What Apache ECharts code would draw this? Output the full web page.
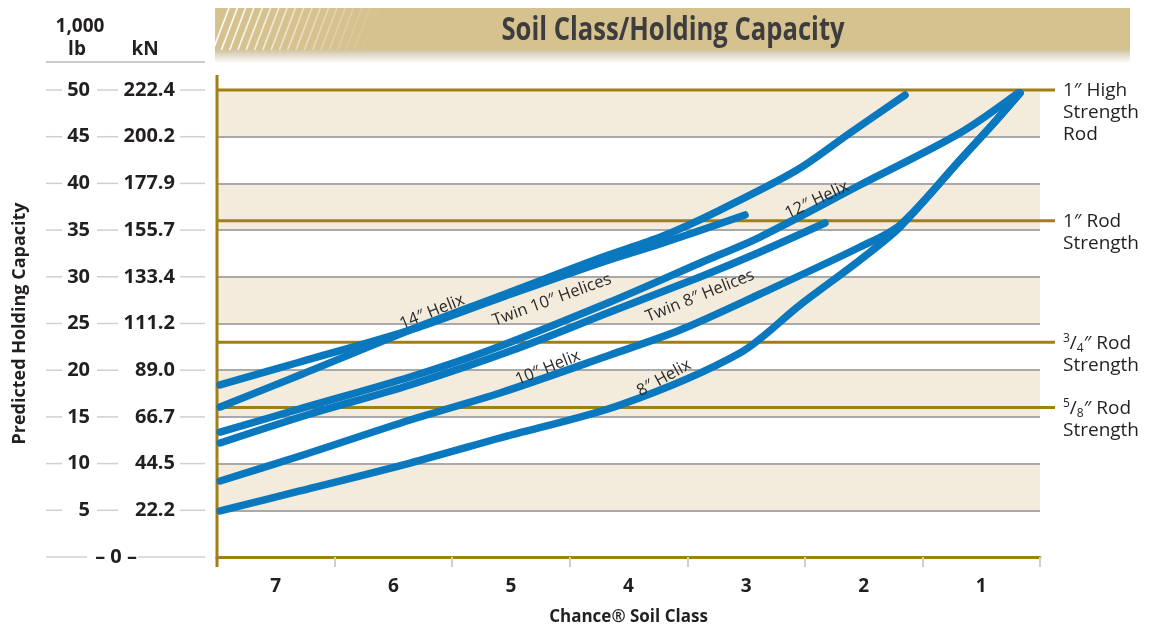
<!DOCTYPE html>
<html><head><meta charset="utf-8">
<script src="https://cdn.jsdelivr.net/npm/echarts/dist/echarts.min.js"></script>
<style>html,body{margin:0;padding:0;background:#fff}#c{width:1154px;height:627px}</style>
</head><body><div id="c"></div>
<script>
// ---- data ----
const soilClasses = ['7','6','5','4','3','2','1'];
const lbTicks = [0,5,10,15,20,25,30,35,40,45,50];
const knLabels = ['0','22.2','44.5','66.7','89.0','111.2','133.4','155.7','177.9','200.2','222.4'];
const rodValues = [50,36,23,16];
const rodLabels = [
  '1\u2033 High\nStrength\nRod',
  '1\u2033 Rod\nStrength',
  '{sup|3}/{sub|4}\u2033 Rod\nStrength',
  '{sup|5}/{sub|8}\u2033 Rod\nStrength'
];
const helix14 = [[7.474,18.42],[6.794,20.88],[5.858,24.30],[5.093,27.73],[4.242,31.48],[3.707,33.62],[3.009,36.62]];
const twin10 = [[7.474,16.06],[6.794,19.49],[5.858,24.30],[5.093,27.94],[4.242,32.01],[3.707,34.37],[3.222,37.15],[2.567,41.43],[2.116,45.40],[1.648,49.46]];
const helix12 = [[7.474,13.38],[6.709,16.17],[5.858,19.27],[5.178,22.16],[4.157,27.30],[3.392,31.48],[2.881,34.26],[2.031,39.83],[1.180,45.40],[0.687,49.68]];
const twin8 = [[7.474,12.21],[6.709,15.31],[5.858,18.42],[4.982,22.16],[4.157,26.23],[3.392,29.98],[2.881,32.66],[2.329,35.76]];
const helix10 = [[7.474,8.14],[6.794,10.81],[5.858,14.67],[5.093,17.56],[4.157,21.63],[3.562,24.30],[2.881,28.16],[2.031,33.19],[1.691,35.55],[1.180,42.51],[0.900,46.36],[0.670,49.68]];
const helix8 = [[7.474,4.93],[6.794,7.07],[5.858,10.06],[5.093,12.74],[4.072,16.27],[3.052,21.84],[2.541,26.98],[2.031,31.80],[1.691,35.33],[1.180,42.51],[0.900,46.36],[0.670,49.68]];
const curveLabels = [
  {text:'14\u2033 Helix', at:[5.671,26.23], rot:22},
  {text:'Twin 10\u2033 Helices', at:[4.651,27.52], rot:20},
  {text:'12\u2033 Helix', at:[2.397,38.22], rot:25},
  {text:'Twin 8\u2033 Helices', at:[3.392,27.94], rot:22},
  {text:'10\u2033 Helix', at:[4.685,20.24], rot:22},
  {text:'8\u2033 Helix', at:[3.698,19.16], rot:29}
];

// ---- style ----
const FF = "'Open Sans', 'Noto Sans', sans-serif";
const GOLD = '#a27f14';
const BLUE = '#0a78bf';
const TXT = '#231f20';

const chart = echarts.init(document.getElementById('c'));
function lineSeries(name, data){
  return {type:'line', name, data, smooth:0.3, symbol:'none', z:5,
    lineStyle:{color:BLUE, width:7.5, cap:'round', join:'round'}};
}
const option = {
  animation:false,
  grid:{left:217, right:114, top:90, bottom:70, containLabel:false, outerBoundsMode:'none'},
  xAxis:[
    {type:'value', min:0.5, max:7.5, inverse:true, position:'bottom',
     axisLine:{show:true, onZero:false, lineStyle:{color:GOLD, width:3}},
     axisTick:{show:false}, axisLabel:{show:false}, splitLine:{show:false}},
    {type:'category', data:soilClasses, boundaryGap:true, position:'bottom', offset:5,
     axisLine:{show:false},
     axisTick:{show:true, length:10, lineStyle:{color:'#cfcfcf', width:2}},
     axisLabel:{margin:15, fontSize:19, fontWeight:'bold', color:TXT, fontFamily:FF},
     name:'Chance\u00AE Soil Class', nameLocation:'middle', nameGap:47,
     nameTextStyle:{fontSize:17, fontWeight:'bold', color:TXT, fontFamily:FF}}
  ],
  yAxis:{type:'value', min:0, max:50, interval:5,
    axisLine:{show:false}, axisTick:{show:false},
    splitLine:{show:true, lineStyle:{color:'#a9a9a9', width:2}},
    splitArea:{show:true, areaStyle:{color:['#ffffff','#f3ecdd']}},
    axisLabel:{margin:42, color:TXT, fontFamily:FF, fontWeight:'bold', fontSize:20,
      formatter:function(v){
        const i = lbTicks.indexOf(v);
        if (v === 0) return '{z|\u2013 0 \u2013}{e| }';
        return '{lb|' + lbTicks[i] + '}{kn|' + knLabels[i] + '}';
      },
      rich:{
        lb:{width:50, align:'right', fontSize:20, fontWeight:'bold', color:TXT, fontFamily:FF},
        kn:{width:85, align:'right', fontSize:20, fontWeight:'bold', color:TXT, fontFamily:FF},
        z:{fontSize:20, fontWeight:'bold', color:TXT, fontFamily:FF},
        e:{width:38, fontSize:20}
      }},
    name:'Predicted Holding Capacity', nameLocation:'middle', nameGap:188, nameRotate:90,
    nameTextStyle:{fontSize:18, fontWeight:'bold', color:TXT, fontFamily:FF}},
  series:[
    lineSeries('14" Helix', helix14),
    lineSeries('Twin 10" Helices', twin10),
    lineSeries('12" Helix', helix12),
    lineSeries('Twin 8" Helices', twin8),
    lineSeries('10" Helix', helix10),
    lineSeries('8" Helix', helix8)
  ]
};
chart.setOption(option);

// ---- decorations positioned through the chart's scales ----
const P = (x,y) => chart.convertToPixel({xAxisIndex:0, yAxisIndex:0}, [x,y]);
const left = P(7.5,0)[0], right = P(0.5,0)[0];
const yTop = P(7.5,50)[1], yBot = P(7.5,0)[1];
const g = [];
// banner
g.push({type:'rect', shape:{x:215, y:8, width:915, height:42}, style:{fill:'#d5c28f'}, z:1});
g.push({type:'rect', shape:{x:215, y:50, width:915, height:13},
  style:{fill:new echarts.graphic.LinearGradient(0,0,0,1,[{offset:0,color:'#cfc3a3'},{offset:1,color:'#ffffff'}])}, z:1});
for (let i=0;i<19;i++){
  const x0 = 213 + i*8.3;
  g.push({type:'line', shape:{x1:x0, y1:50, x2:x0+16, y2:8},
    style:{stroke:'#ffffff', lineWidth:1.7, opacity:Math.max(0,0.95*(1-i/19))}, z:2});
}
g.push({type:'text', x:673, y:31, scaleX:0.8, z:3, style:{text:'Soil Class/Holding Capacity', fontSize:32, fontWeight:'bold',
  fontFamily:FF, fill:'#3d3c3e', align:'center', verticalAlign:'middle'}});
// header of the left scale
g.push({type:'text', x:80, y:27, style:{text:'1,000', fontSize:19, fontWeight:'bold', fontFamily:FF, fill:TXT, align:'center', verticalAlign:'middle'}});
g.push({type:'text', x:77, y:50, style:{text:'lb', fontSize:19, fontWeight:'bold', fontFamily:FF, fill:TXT, align:'center', verticalAlign:'middle'}});
g.push({type:'text', x:145, y:50, style:{text:'kN', fontSize:19, fontWeight:'bold', fontFamily:FF, fill:TXT, align:'center', verticalAlign:'middle'}});
g.push({type:'line', shape:{x1:46, y1:62, x2:205, y2:62}, style:{stroke:'#cccccc', lineWidth:2}});
// dashes between scale labels
lbTicks.forEach(v => {
  const y = P(7.5, v)[1];
  const segs = v === 0 ? [[46,87],[138,205]] : [[46,62],[97,118],[180,205]];
  segs.forEach(s => g.push({type:'line', shape:{x1:s[0], y1:y, x2:s[1], y2:y}, style:{stroke:'#d0d0d0', lineWidth:1.5}}));
});
// left gold axis
g.push({type:'line', z:4, shape:{x1:left, y1:yTop-15, x2:left, y2:yBot+10}, style:{stroke:GOLD, lineWidth:3}});
// rod strength lines + labels
rodValues.forEach((v,i) => {
  const y = P(7.5, v)[1];
  g.push({type:'line', z:1, shape:{x1:left, y1:y, x2:right+15, y2:y}, style:{stroke:GOLD, lineWidth:3}});
  g.push({type:'text', z:10, x:right+23, y:y-10, style:{text:rodLabels[i], fontSize:19, lineHeight:22, fontFamily:FF, fill:TXT,
    align:'left', verticalAlign:'top',
    rich:{sup:{fontSize:12, lineHeight:12, verticalAlign:'top', fontFamily:FF, fill:TXT},
          sub:{fontSize:12, lineHeight:12, verticalAlign:'bottom', fontFamily:FF, fill:TXT, padding:[8,0,0,0]}}}});
});
// curve labels
curveLabels.forEach(c => {
  const p = P(c.at[0], c.at[1]);
  g.push({type:'text', z:10, x:p[0], y:p[1], rotation:c.rot*Math.PI/180,
    style:{text:c.text, fontSize:16.5, fontFamily:FF, fill:'#2a2a2a', align:'center', verticalAlign:'middle'}});
});
chart.setOption({graphic:{elements:g}});
</script>
</body></html>
